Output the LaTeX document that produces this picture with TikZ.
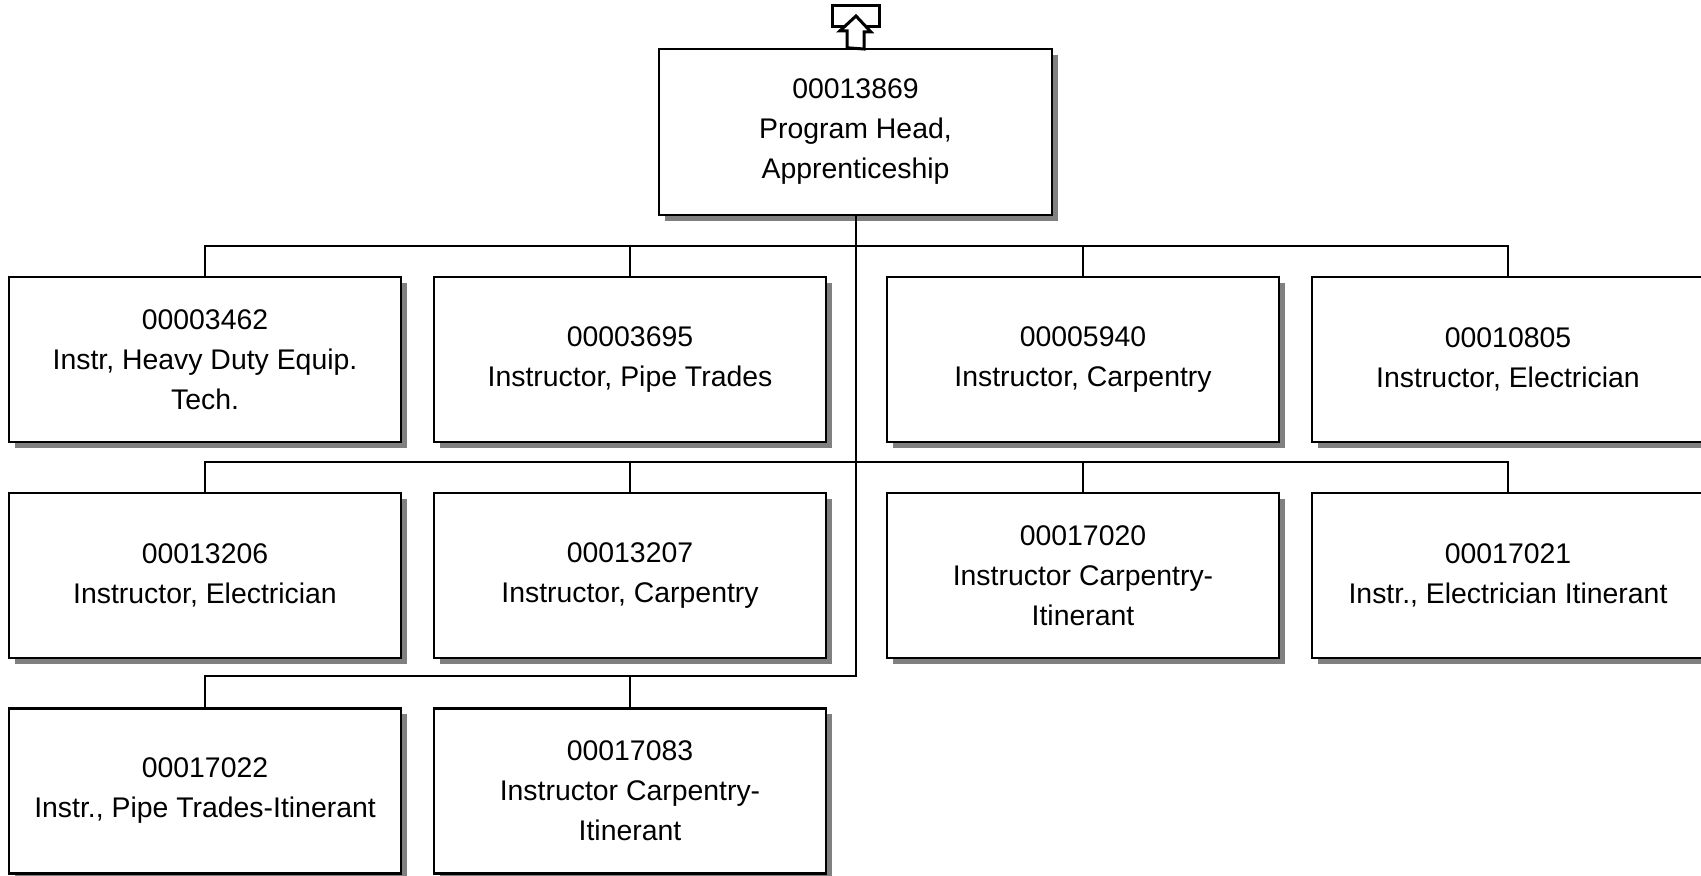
\documentclass[tikz,border=0pt]{standalone}
\usepackage{fontspec}
\setmainfont{Liberation Sans}
\usetikzlibrary{positioning, shadows}

\tikzset{
  postbox/.style={draw, line width=1.2pt, fill=white, minimum width=196pt, minimum height=82.5pt,
    align=center, font=\fontsize{14.2}{20}\selectfont, inner sep=0pt,
    drop shadow={shadow xshift=2.8pt, shadow yshift=-2.8pt, fill=black!50, opacity=1}},
  orgline/.style={line width=1pt}
}

\begin{document}
\begin{tikzpicture}[x=0.5pt, y=-0.5pt]
    \useasboundingbox (0,0) rectangle (1701,876);

    % head position
    \node[postbox, minimum width=196.5pt, minimum height=83pt] (p13869) at (855.5,132) {00013869\\Program Head,\\Apprenticeship};

    % reports-to marker
    \draw[line width=1.5pt] (832,6) rectangle (879,27);
    \draw[line width=1.5pt, fill=white] (p13869.north) ++(-8.5,0) -- ++(0,-17) -- ++(-7,0) -- (856,16)
      -- (871,32) -- (864,32) -- (864,49) -- cycle;

    % first row
    \node[postbox] (p3462) at (205,359.5) {00003462\\Instr, Heavy Duty Equip.\\Tech.};
    \node[postbox] (p3695) at (630,359.5) {00003695\\Instructor, Pipe Trades};
    \node[postbox] (p5940) at (1083,359.5) {00005940\\Instructor, Carpentry};
    \node[postbox] (p10805) at (1508,359.5) {00010805\\Instructor, Electrician};

    % second row
    \node[postbox] (p13206) at (205,575.5) {00013206\\Instructor, Electrician};
    \node[postbox] (p13207) at (630,575.5) {00013207\\Instructor, Carpentry};
    \node[postbox] (p17020) at (1083,575.5) {00017020\\Instructor Carpentry-\\Itinerant};
    \node[postbox] (p17021) at (1508,575.5) {00017021\\Instr., Electrician Itinerant};

    % third row
    \node[postbox] (p17022) at (205,791) {00017022\\Instr., Pipe Trades-Itinerant};
    \node[postbox] (p17083) at (630,791) {00017083\\Instructor Carpentry-\\Itinerant};

    % connectors
    \draw[orgline] (p17022.north) -- ++(0,-31) -| (p13869.south);
    \draw[orgline] (p17083.north) -- ++(0,-31);
    \draw[orgline] (p3462.north) -- ++(0,-30) -| (p10805.north);
    \draw[orgline] (p3695.north) -- ++(0,-30);
    \draw[orgline] (p5940.north) -- ++(0,-30);
    \draw[orgline] (p13206.north) -- ++(0,-30) -| (p17021.north);
    \draw[orgline] (p13207.north) -- ++(0,-30);
    \draw[orgline] (p17020.north) -- ++(0,-30);
\end{tikzpicture}
\end{document}
